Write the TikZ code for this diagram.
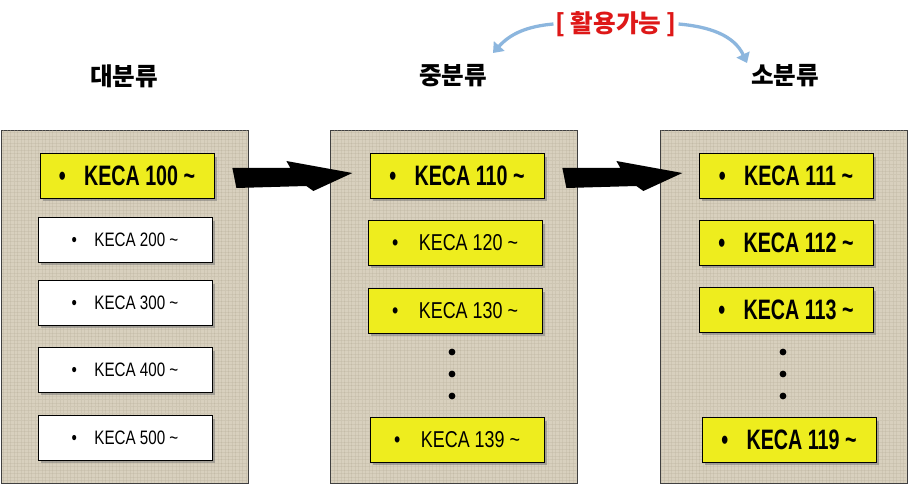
\documentclass[tikz,border=0pt]{standalone}
\usepackage{fontspec}
\setmainfont{Liberation Sans}
\newfontfamily\narrowfont[FakeStretch=0.78]{Liberation Sans}
\newfontfamily\heavyfont[FakeStretch=0.70]{Liberation Sans Bold}
\newfontfamily\krfont{Noto Sans CJK KR}
\usetikzlibrary{shadows,arrows.meta,patterns}
\definecolor{kecayellow}{RGB}{238,237,30}
\definecolor{linen}{RGB}{216,208,190}
\definecolor{linendark}{RGB}{190,180,160}
\definecolor{arrowblue}{RGB}{140,182,222}
\definecolor{labelred}{RGB}{222,24,24}
\begin{document}
\begin{tikzpicture}[x=0.03cm,y=-0.03cm,
  panel/.style={draw=black!75,line width=0.6pt,fill=linen},
  box/.style={draw=black,line width=0.6pt,minimum width=5.22cm,minimum height=1.33cm,inner sep=0pt,
    drop shadow={shadow xshift=2.5pt,shadow yshift=-2.5pt,fill=black!55}},
  plainbox/.style={box,fill=white,font=\narrowfont\fontsize{16.6}{18}\selectfont},
  midbox/.style={box,fill=kecayellow,font=\narrowfont\fontsize{19.6}{22}\selectfont},
  keybox/.style={box,fill=kecayellow,font=\heavyfont\fontsize{24}{26}\selectfont},
  heading/.style={font=\krfont\bfseries\fontsize{21}{24}\selectfont},
  bluearrow/.style={draw=arrowblue,line width=2.8pt,-{Triangle[width=12pt,length=8pt]}}]
\useasboundingbox (0,0) rectangle (909,484);
\fill[white] (0,0) rectangle (909,484);
\foreach \px in {1,330,660}{
  \draw[panel] (\px,130) rectangle (\px+247,483);
  \fill[pattern=grid,pattern color=linendark,opacity=0.35] (\px+1,131) rectangle (\px+246,482);
}
\node[heading] (h1) at (124,76) {대분류};
\node[heading] (h2) at (453,76) {중분류};
\node[heading] (h3) at (785,76) {소분류};
\node[font=\krfont\bfseries\fontsize{21}{24}\selectfont,text=labelred] (lbl) at (616,24) {[ 활용가능 ]};
\coordinate (t2) at (493,53);
\coordinate (t3) at (747,63);
\draw[bluearrow] ([xshift=2pt]lbl.west) to[out=185,in=48] (t2);
\draw[bluearrow] ([xshift=-2pt]lbl.east) to[out=-5,in=115] (t3);
\node[keybox] (k100) at (127,176) {\textbullet\hspace{0.65em}KECA 100 \textasciitilde};
\node[plainbox] (k200) at (125,240) {\textbullet\hspace{0.9em}KECA 200 \textasciitilde};
\node[plainbox] (k300) at (125,303) {\textbullet\hspace{0.9em}KECA 300 \textasciitilde};
\node[plainbox] (k400) at (125,370) {\textbullet\hspace{0.9em}KECA 400 \textasciitilde};
\node[plainbox] (k500) at (125,438) {\textbullet\hspace{0.9em}KECA 500 \textasciitilde};
\node[keybox] (k110) at (457,176) {\textbullet\hspace{0.65em}KECA 110 \textasciitilde};
\node[midbox] (k120) at (455,243) {\textbullet\hspace{0.9em}KECA 120 \textasciitilde};
\node[midbox] (k130) at (455,311) {\textbullet\hspace{0.9em}KECA 130 \textasciitilde};
\node[midbox] (k139) at (457,440) {\textbullet\hspace{0.9em}KECA 139 \textasciitilde};
\node[keybox] (k111) at (786,176) {\textbullet\hspace{0.65em}KECA 111 \textasciitilde};
\node[keybox] (k112) at (786,243) {\textbullet\hspace{0.65em}KECA 112 \textasciitilde};
\node[keybox] (k113) at (786,310) {\textbullet\hspace{0.65em}KECA 113 \textasciitilde};
\node[keybox] (k119) at (789,440) {\textbullet\hspace{0.65em}KECA 119 \textasciitilde};
\foreach \dy in {352,374,396}{
  \fill (452,\dy) circle (3.4);
  \fill (783,\dy) circle (3.4);
}
\foreach \a in {k100,k110}
  \fill ([xshift=18*0.03cm,yshift=8*0.03cm]\a.east) -- ++(58,0) -- ++(-4,-7) -- ++(66,12)
    -- ++(-39,18) -- ++(-7,-5) -- ++(-70,2) -- cycle;
\end{tikzpicture}
\end{document}
